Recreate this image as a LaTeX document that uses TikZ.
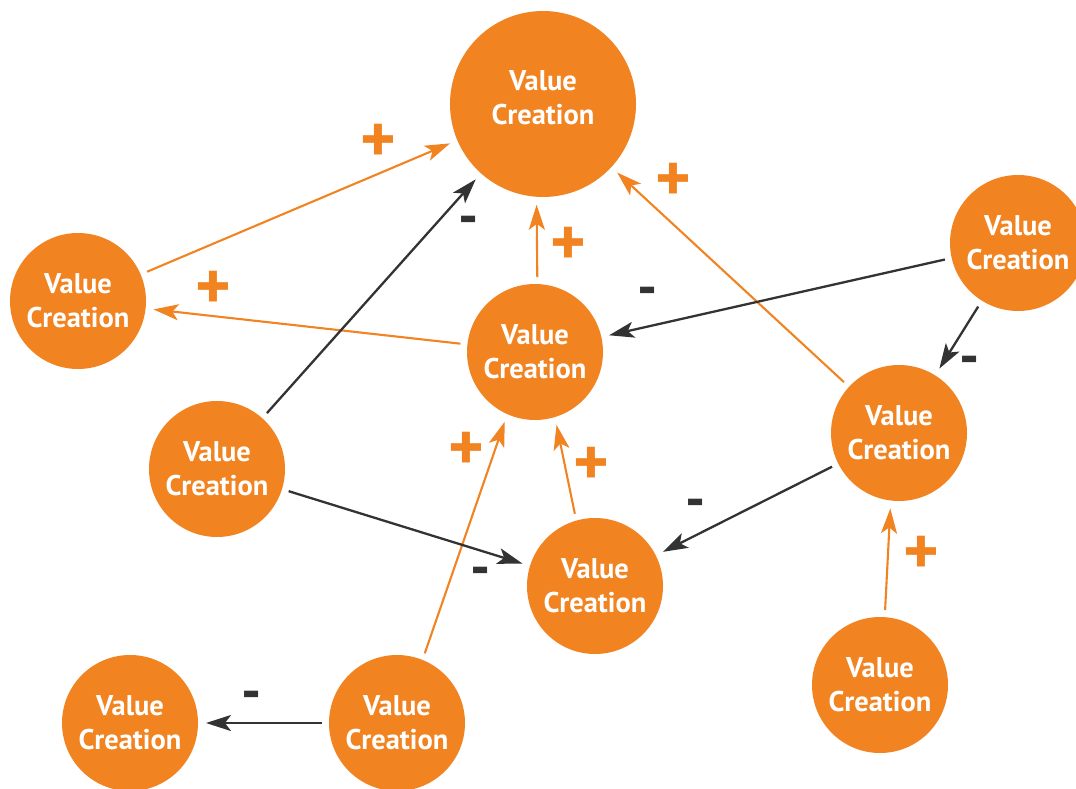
\documentclass[tikz,border=0pt]{standalone}
\usepackage{fontspec}
\setmainfont{PT Sans}
\usetikzlibrary{arrows.meta}
\definecolor{vcorange}{RGB}{241,131,33}
\definecolor{vcdark}{RGB}{51,51,51}
\begin{document}
\begin{tikzpicture}[x=1pt,y=-1pt,
 vc/.style={circle,fill=vcorange,text=white,minimum size=136pt,inner sep=0pt,outer sep=0pt,align=center,font=\bfseries\fontsize{28.5}{34}\selectfont},
 vcbig/.style={vc,minimum size=186pt},
 vctext/.style={text=white,inner sep=0pt,align=center,font=\bfseries\fontsize{28.5}{34}\selectfont},
 posarrow/.style={draw=vcorange,line width=2.1pt,-{Stealth[length=25pt,width=16pt,inset=6pt]},shorten <=7pt,shorten >=8pt},
 negarrow/.style={posarrow,draw=vcdark,line width=2.3pt},
 plussign/.style={text=vcorange,font=\bfseries\fontsize{68}{68}\selectfont,inner sep=0pt},
 minussign/.style={text=vcdark,font=\bfseries\fontsize{56}{56}\selectfont,inner sep=0pt}]
\clip (0,0) rectangle (1076,789);
\fill[white] (0,0) rectangle (1076,789);
% nodes
\node[vcbig] (n1) at (543,104) {};
\node[vctext] (t1) at ([yshift=6pt]n1.center) {Value\\Creation};
\node[vc] (n2) at (78,301) {Value\\Creation};
\node[vc] (n3) at (535,352) {Value\\Creation};
\node[vc] (n4) at (1018,243) {Value\\Creation};
\node[vc] (n5) at (899,433) {Value\\Creation};
\node[vc] (n6) at (217,469) {Value\\Creation};
\node[vc] (n7) at (595,586) {Value\\Creation};
\node[vc] (n8) at (880,685) {Value\\Creation};
\node[vc] (n9) at (130,723) {Value\\Creation};
\node[vc] (n10) at (397,723) {Value\\Creation};
% positive connectors
\draw[posarrow] (n2) -- (n1);
\draw[posarrow] (n3) -- (n2);
\draw[posarrow] (n3.88) -- (n1.266);
\draw[posarrow] (n5) -- (n1);
\draw[posarrow] (n10.68) -- (n3.246);
\draw[posarrow] (n7.106) -- (n3.287);
\draw[posarrow] (n8.86) -- (n5.263);
% negative connectors
\draw[negarrow] (n6) -- (n1);
\draw[negarrow] (n4) -- (n3);
\draw[negarrow] (n4) -- (n5);
\draw[negarrow] (n6) -- (n7);
\draw[negarrow] (n5) -- (n7);
\draw[negarrow] (n10) -- (n9);
% labels
\node[plussign] (p1) at (378,143) {+};
\node[plussign] (p2) at (213,290) {+};
\node[plussign] (p3) at (568,246) {+};
\node[plussign] (p4) at (673,182) {+};
\node[plussign] (p5) at (466,451) {+};
\node[plussign] (p6) at (591,466) {+};
\node[plussign] (p7) at (921,555) {+};
\node[minussign] (m1) at (469,226) {-};
\node[minussign] (m2) at (648,297) {-};
\node[minussign] (m3) at (970,366) {-};
\node[minussign] (m4) at (481,577) {-};
\node[minussign] (m5) at (696,509) {-};
\node[minussign] (m6) at (252,701) {-};
\end{tikzpicture}
\end{document}
